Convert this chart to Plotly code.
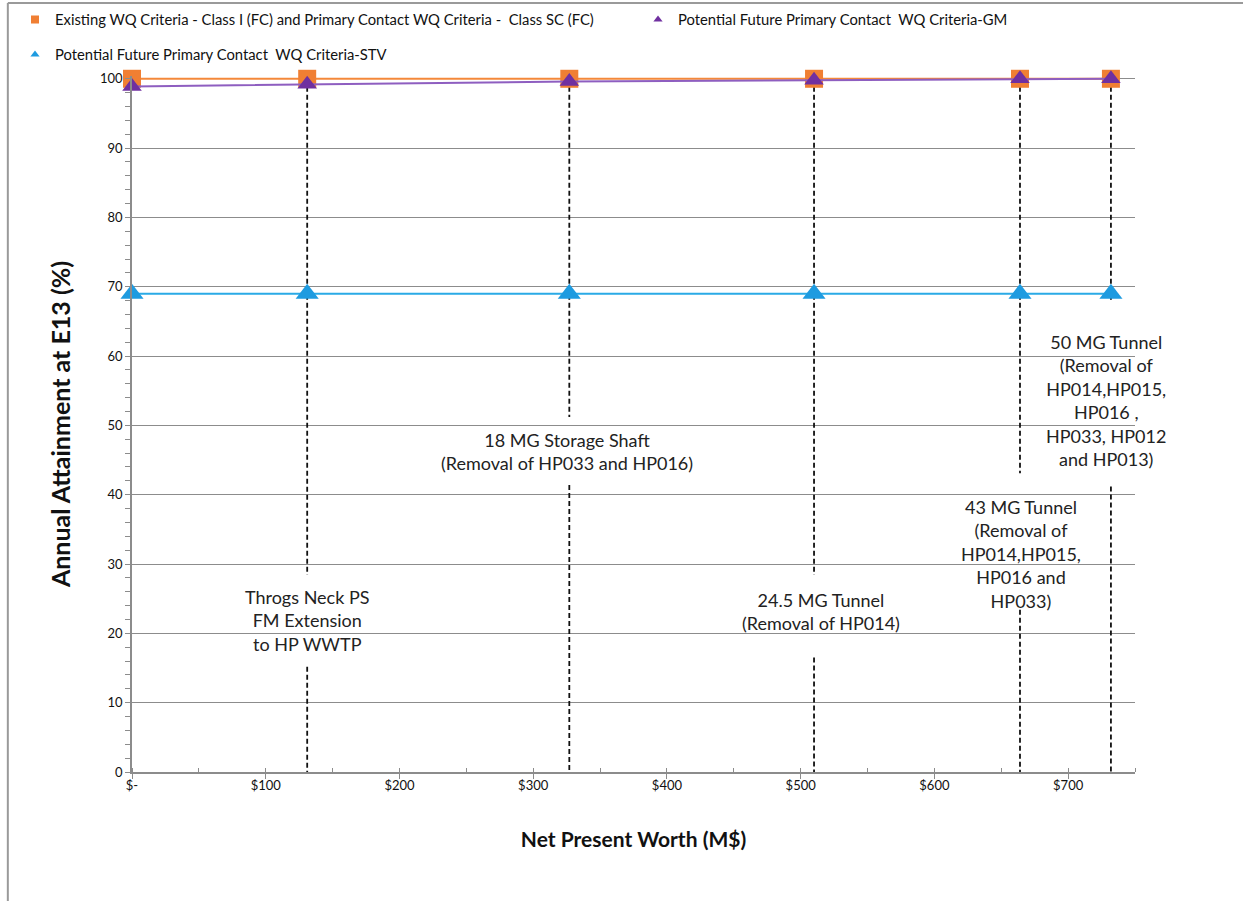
import plotly.graph_objects as go

# Net present worth of each alternative (M$)
cost = [0, 131, 327, 510, 664, 732]

# Annual attainment at station E13 (%)
existing_fc = [100, 100, 100, 100, 100, 100]
future_gm = [98.9, 99.2, 99.6, 99.8, 100, 100]
future_stv = [69, 69, 69, 69, 69, 69]

series_names = [
    "Existing WQ Criteria - Class I (FC) and Primary Contact WQ Criteria -  Class SC (FC)",
    "Potential Future Primary Contact  WQ Criteria-GM",
    "Potential Future Primary Contact  WQ Criteria-STV",
]

# Alternatives called out on the chart (cost of each is in `cost[1:]`)
alt_cost = [131, 327, 510, 664, 732]
alt_labels = [
    "Throgs Neck PS<br>FM Extension<br>to HP WWTP",
    "18 MG Storage Shaft<br>(Removal of HP033 and HP016)",
    "24.5 MG Tunnel<br>(Removal of HP014)",
    "43 MG Tunnel<br>(Removal of<br>HP014,HP015,<br>HP016 and<br>HP033)",
    "50 MG Tunnel<br>(Removal of<br>HP014,HP015,<br>HP016 ,<br>HP033, HP012<br>and HP013)",
]
# label anchor (x offset from its cost, y centre) and the gap it leaves in the leader
label_dx = [0, -2, 5, 1, -4]
label_y = [21.8, 46.2, 23.2, 31.4, 53.6]
leader_gap_top = [28.4, 51.2, 28.4, 43.1, 68.0]
leader_gap_bottom = [15.2, 41.4, 16.5, 23.4, 41.2]

x_ticks = [0, 100, 200, 300, 400, 500, 600, 700]
x_tick_text = ["$-", "$100", "$200", "$300", "$400", "$500", "$600", "$700"]

FONT = "Lato, 'Open Sans', sans-serif"
GRID = "#8c8c8c"
W, H = 1243, 901

colors = dict(
    fc_line="#F4883A", fc_marker="#F07F33",
    gm_line="#8E5EC0", gm_marker="#7030A0",
    stv_line="#2AAAE6", stv_marker="#1E9BE0",
)

fig = go.Figure()

# dashed leader lines for each alternative, broken around its label
for xc, top_end, bot_start in zip(alt_cost, leader_gap_top, leader_gap_bottom):
    for y0, y1 in ((100, top_end), (bot_start, 0)):
        fig.add_trace(go.Scatter(
            x=[xc, xc], y=[y0, y1], mode="lines",
            line=dict(color="#111111", width=1.8, dash="5px,3px"),
            showlegend=False, hoverinfo="skip",
        ))

series = [
    (existing_fc, "square", 18, colors["fc_line"], colors["fc_marker"], "legend"),
    (future_gm, "triangle-up", 17, colors["gm_line"], colors["gm_marker"], "legend2"),
    (future_stv, "triangle-up", 20, colors["stv_line"], colors["stv_marker"], "legend3"),
]

for (vals, sym, size, lc, mc, leg), name in zip(series, series_names):
    fig.add_trace(go.Scatter(
        x=cost, y=vals, name=name, mode="lines+markers",
        line=dict(color=lc, width=2),
        marker=dict(symbol=sym, size=size, color=mc),
        cliponaxis=False, showlegend=False,
    ))
    # legend key: a small marker only
    fig.add_trace(go.Scatter(
        x=[None], y=[None], name=name, mode="markers",
        marker=dict(symbol=sym, size=8, color=mc),
        legend=leg, showlegend=True,
    ))

for xc, dx, yc, txt in zip(alt_cost, label_dx, label_y, alt_labels):
    fig.add_annotation(
        x=xc + dx, y=yc, text=txt, showarrow=False,
        xanchor="center", yanchor="middle", align="center",
        font=dict(family=FONT, size=18, color="#222222"),
    )

legend_common = dict(
    orientation="h", xanchor="left", yanchor="middle",
    xref="container", yref="container",
    bgcolor="rgba(0,0,0,0)",
    font=dict(family=FONT, size=14.8, color="#111111"),
)

fig.update_layout(
    width=W, height=H,
    margin=dict(l=132, r=108, t=76, b=129, autoexpand=False),
    paper_bgcolor="white", plot_bgcolor="white",
    font=dict(family=FONT, color="#111111"),
    legend=dict(x=15 / W, y=1 - 20 / H, **legend_common),
    legend2=dict(x=638 / W, y=1 - 20 / H, **legend_common),
    legend3=dict(x=15 / W, y=1 - 55 / H, **legend_common),
    xaxis=dict(
        range=[0, 750], tickvals=x_ticks, ticktext=x_tick_text,
        showgrid=False, zeroline=False,
        showline=True, linecolor=GRID, linewidth=1.5,
        ticks="outside", ticklen=5, tickcolor=GRID, tickwidth=1.2,
        ticklabelstandoff=-4,
        minor=dict(dtick=50, ticks="inside", ticklen=4, tickcolor=GRID, showgrid=False),
        tickfont=dict(family=FONT, size=13, color="#111111"),
        title=dict(text="<b>Net Present Worth (M$)</b>", standoff=40,
                   font=dict(family=FONT, size=21, color="#111111")),
    ),
    yaxis=dict(
        range=[0, 100.4], tickvals=list(range(0, 101, 10)),
        showgrid=True, gridcolor=GRID, gridwidth=1.3, zeroline=False,
        showline=True, linecolor=GRID, linewidth=1.5,
        ticks="outside", ticklen=5, tickcolor=GRID, tickwidth=1.2,
        minor=dict(tickvals=[v for v in range(2, 100, 2) if v % 10], ticks="outside",
                   ticklen=5, tickcolor=GRID, showgrid=False),
        tickfont=dict(family=FONT, size=13, color="#111111"),
        title=dict(text="<b>Annual Attainment at E13 (%)</b>", standoff=22,
                   font=dict(family=FONT, size=25, color="#111111")),
    ),
    # outer frame of the chart area (top and left edges)
    shapes=[
        dict(type="line", xref="paper", yref="paper",
             x0=-0.1238, x1=1.2, y0=1.105, y1=1.105,
             line=dict(color="#9a9a9a", width=2), layer="below"),
        dict(type="line", xref="paper", yref="paper",
             x0=-0.1238, x1=-0.1238, y0=-0.2, y1=1.105,
             line=dict(color="#9a9a9a", width=2), layer="below"),
    ],
)

fig.write_html("out.html")
